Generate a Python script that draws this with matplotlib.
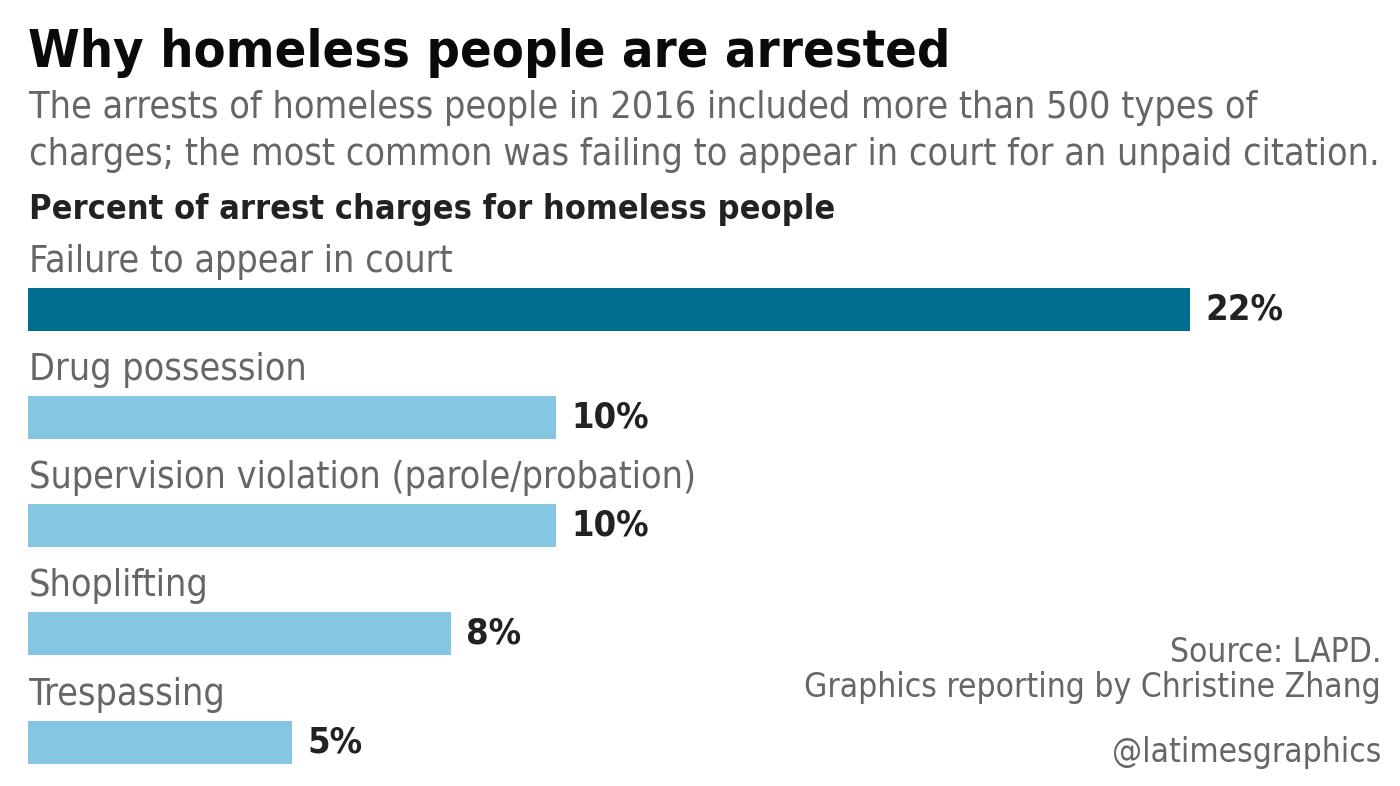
import matplotlib.pyplot as plt

# Data
categories = ['Failure to appear in court', 'Drug possession',
              'Supervision violation (parole/probation)', 'Shoplifting', 'Trespassing']
percents = [22, 10, 10, 8, 5]
value_labels = ['22%', '10%', '10%', '8%', '5%']
bar_colors = ['#006e8f', '#85c7e2', '#85c7e2', '#85c7e2', '#85c7e2']

TITLE = 'Why homeless people are arrested'
SUBTITLE = ('The arrests of homeless people in 2016 included more than 500 types of\n'
            'charges; the most common was failing to appear in court for an unpaid citation.')
SUBHEAD = 'Percent of arrest charges for homeless people'

# condensed DejaVu is the nearest stand-in for the narrow news font
plt.rcParams['font.family'] = ['DejaVu Sans']
plt.rcParams['font.stretch'] = 'condensed'

W, H = 1400, 786
fig = plt.figure(figsize=(W / 100, H / 100), dpi=100)
fig.patch.set_facecolor('white')


def fx(px):
    return px / W


def fy(py):
    return 1 - py / H


# Header texts
fig.text(fx(28), fy(67), TITLE, fontsize=37.5, fontweight='bold', color='#0a0a0a', va='baseline')
fig.text(fx(29), fy(118), SUBTITLE.split('\n')[0], fontsize=27, color='#666666', va='baseline')
fig.text(fx(29), fy(165), SUBTITLE.split('\n')[1], fontsize=27, color='#666666', va='baseline')
fig.text(fx(29), fy(219), SUBHEAD, fontsize=24.6, fontweight='bold', color='#222222', va='baseline')

# Bars: axes spans full height, y units are pixels (inverted)
ax = fig.add_axes([fx(28), 0, fx(1190) - fx(28), 1])
ax.set_xlim(0, 22)
ax.set_ylim(H, 0)
ax.axis('off')

first_center = 309
step = 108.3
bar_h = 43
ys = [first_center + i * step for i in range(len(categories))]

ax.barh(ys, percents, height=bar_h, color=bar_colors, align='center')

for y, cat, val, lab in zip(ys, categories, percents, value_labels):
    ax.text(0.02, y - bar_h / 2 - 16, cat, fontsize=27, color='#666666', va='baseline', ha='left')
    ax.annotate(lab, (val, y), xytext=(11, 0), textcoords='offset points',
                fontsize=26, fontweight='bold', color='#222222', va='center', ha='left')

# Source / credits
fig.text(fx(1381), fy(662), 'Source: LAPD.', fontsize=24, color='#666666', ha='right', va='baseline')
fig.text(fx(1381), fy(697), 'Graphics reporting by Christine Zhang', fontsize=24, color='#666666',
         ha='right', va='baseline')
fig.text(fx(1381), fy(762), '@latimesgraphics', fontsize=24, color='#666666', ha='right', va='baseline')

fig.savefig('out.png', dpi=100, facecolor='white')
